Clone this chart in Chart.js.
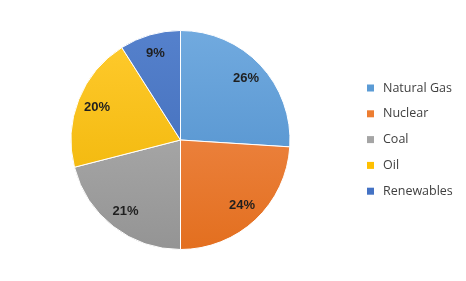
<!DOCTYPE html>
<html>
<head>
<meta charset="utf-8">
<script src="https://cdn.jsdelivr.net/npm/chart.js@4/dist/chart.umd.min.js"></script>
<style>
  html, body { margin: 0; padding: 0; background: #fff; }
  #wrap { width: 466px; height: 281px; position: relative; }
</style>
</head>
<body>
<div id="wrap"><canvas id="pie"></canvas></div>
<script>
const labels = ['Natural Gas', 'Nuclear', 'Coal', 'Oil', 'Renewables'];
const shares = [26, 24, 21, 20, 9];
const colors = ['#5B9BD5', '#ED7D31', '#A5A5A5', '#FFC000', '#4472C4'];
const lightColors = ['#71AADF', '#F29056', '#B5B5B5', '#FFCB2E', '#5581CC'];
const darkColors = ['#4A8BC9', '#E36F1F', '#949494', '#EDB100', '#3D68B6'];

function sliceFill(ctx) {
  const area = ctx.chart.chartArea;
  if (!area) return colors[ctx.dataIndex];
  const g = ctx.chart.ctx.createLinearGradient(0, area.top, 0, area.bottom);
  g.addColorStop(0, lightColors[ctx.dataIndex]);
  g.addColorStop(1, darkColors[ctx.dataIndex]);
  return g;
}

// percent labels inside slices
const sliceLabels = {
  id: 'sliceLabels',
  afterDatasetsDraw(chart) {
    const c = chart.ctx;
    const meta = chart.getDatasetMeta(0);
    c.save();
    c.font = 'bold 13px "Liberation Sans", Arial, sans-serif';
    c.fillStyle = '#1f1f1f';
    c.textAlign = 'center';
    c.textBaseline = 'middle';
    meta.data.forEach((arc, i) => {
      const mid = (arc.startAngle + arc.endAngle) / 2;
      const r = arc.outerRadius * 0.82;
      c.fillText(shares[i] + '%', arc.x + Math.cos(mid) * r, arc.y + Math.sin(mid) * r);
    });
    c.restore();
  }
};

// legend on the right, drawn from the same arrays
const sideLegend = {
  id: 'sideLegend',
  afterDraw(chart) {
    const c = chart.ctx;
    const x = 367, y0 = 88, step = 25.8;
    c.save();
    c.font = '12.5px "Open Sans", Arial, sans-serif';
    c.textBaseline = 'middle';
    labels.forEach((lab, i) => {
      const y = y0 + i * step;
      c.fillStyle = colors[i];
      c.fillRect(x, y - 3.5, 7, 7);
      c.fillStyle = '#404040';
      c.fillText(lab, x + 16, y);
    });
    c.restore();
  }
};

new Chart(document.getElementById('pie'), {
  type: 'pie',
  data: {
    labels,
    datasets: [{
      data: shares,
      backgroundColor: sliceFill,
      borderColor: '#ffffff',
      borderWidth: 1
    }]
  },
  options: {
    responsive: true,
    maintainAspectRatio: false,
    animation: false,
    layout: { padding: { left: 70, right: 175, top: 30, bottom: 31 } },
    plugins: {
      legend: { display: false },
      tooltip: { enabled: false }
    }
  },
  plugins: [sliceLabels, sideLegend]
});
</script>
</body>
</html>
